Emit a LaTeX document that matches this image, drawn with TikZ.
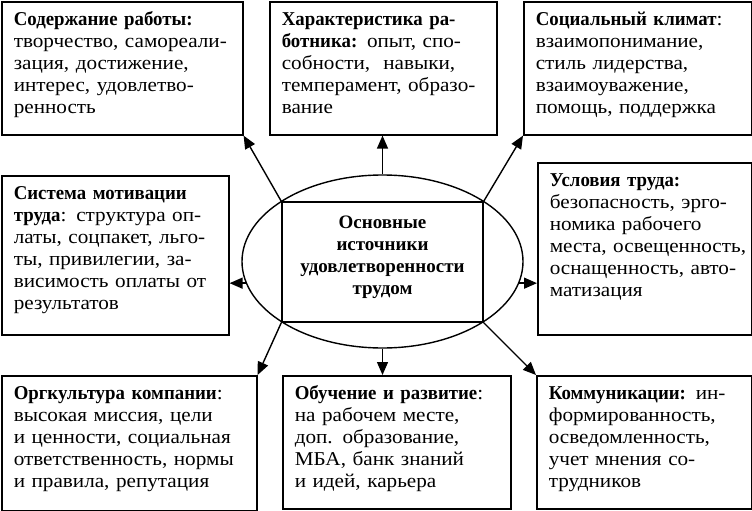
\documentclass[tikz,border=0pt]{standalone}
\usepackage{fontspec}
\setmainfont[FakeStretch=1.08, BoldFeatures={FakeStretch=0.96}]{Liberation Serif}
\newfontfamily\corefont{Liberation Serif}
\usepackage{tikz}
\usetikzlibrary{arrows.meta,positioning,shapes.geometric,calc}

\begin{document}
\begin{tikzpicture}[
  x=1pt, y=-1pt,
  every node/.style={font=\fontsize{19.6}{22}\selectfont},
  box/.style={rectangle, draw, line width=1.6pt, anchor=north west, align=left,
              inner xsep=12pt, inner ysep=10pt, text height=14pt,
              execute at begin node={\rightskip=-12pt plus 2em\relax}},
  core/.style={rectangle, draw, line width=1.4pt, align=center,
               font=\corefont\fontsize{19}{22}\selectfont,
               minimum width=201pt, minimum height=120pt, inner sep=2pt,
               text depth=14.5pt},
  oval/.style={ellipse, draw, line width=1.4pt,
               minimum width=281pt, minimum height=173pt},
  arr/.style={-{Triangle[length=13pt,width=11pt]}, line width=1.4pt},
]
\useasboundingbox (0,0) rectangle (752,511);

\node[box, text width=217pt, text depth=99pt] (content) at (1,1)
  {\textbf{Содержание работы:}\\
   творчество, самореали-\\
   зация, достижение,\\
   интерес, удовлетво-\\
   ренность};
\node[box, text width=203pt, text depth=99pt] (worker) at (269,1)
  {\textbf{Характеристика ра-}\\
   \textbf{ботника:} опыт, спо-\\
   собности,~ навыки,\\
   темперамент, образо-\\
   вание};
\node[box, text width=204pt, text depth=99pt] (climate) at (523,1)
  {\textbf{Социальный климат}:\\
   взаимопонимание,\\
   стиль лидерства,\\
   взаимоуважение,\\
   помощь, поддержка};
\node[box, text width=203pt, text depth=125pt] (motiv) at (1,175)
  {\textbf{Система мотивации}\\
   \textbf{труда}: структура оп-\\
   латы, соцпакет, льго-\\
   ты, привилегии, за-\\
   висимость оплаты от\\
   результатов};
\node[box, text width=190pt, text depth=138pt] (cond) at (537,162)
  {\textbf{Условия труда:}\\
   безопасность, эрго-\\
   номика рабочего\\
   места, освещенность,\\
   оснащенность, авто-\\
   матизация};
\node[box, text width=231pt, text depth=101pt] (culture) at (1,375)
  {\textbf{Оргкультура компании}:\\
   высокая миссия, цели\\
   и ценности, социальная\\
   ответственность, нормы\\
   и правила, репутация};
\node[box, text width=204pt, text depth=99pt] (learn) at (282,375)
  {\textbf{Обучение и развитие}:\\
   на рабочем месте,\\
   доп. образование,\\
   МБА, банк знаний\\
   и идей, карьера};
\node[box, text width=191pt, text depth=99pt] (comm) at (536,375)
  {\textbf{Коммуникации:} ин-\\
   формированность,\\
   осведомленность,\\
   учет мнения со-\\
   трудников};

\node[oval] (ell) at (382.5,261.5) {};
\node[core] (src) at (382.5,262)
  {\textbf{Основные}\\
   \textbf{источники}\\
   \textbf{удовлетворенности}\\
   \textbf{трудом}};

\draw[arr] (src.north west) -- (content.south east);
\draw[arr] (ell.north) -- (ell.north |- worker.south);
\draw[arr] (src.north east) -- (climate.south west);
\draw[arr] (ell.189) -- (ell.189 -| motiv.east);
\draw[arr] (ell.-9) -- (ell.-9 -| cond.west);
\draw[arr] (src.south west) -- (culture.north east);
\draw[arr] (ell.south) -- (ell.south |- learn.north);
\draw[arr] (src.south east) -- (comm.north west);
\end{tikzpicture}
\end{document}
